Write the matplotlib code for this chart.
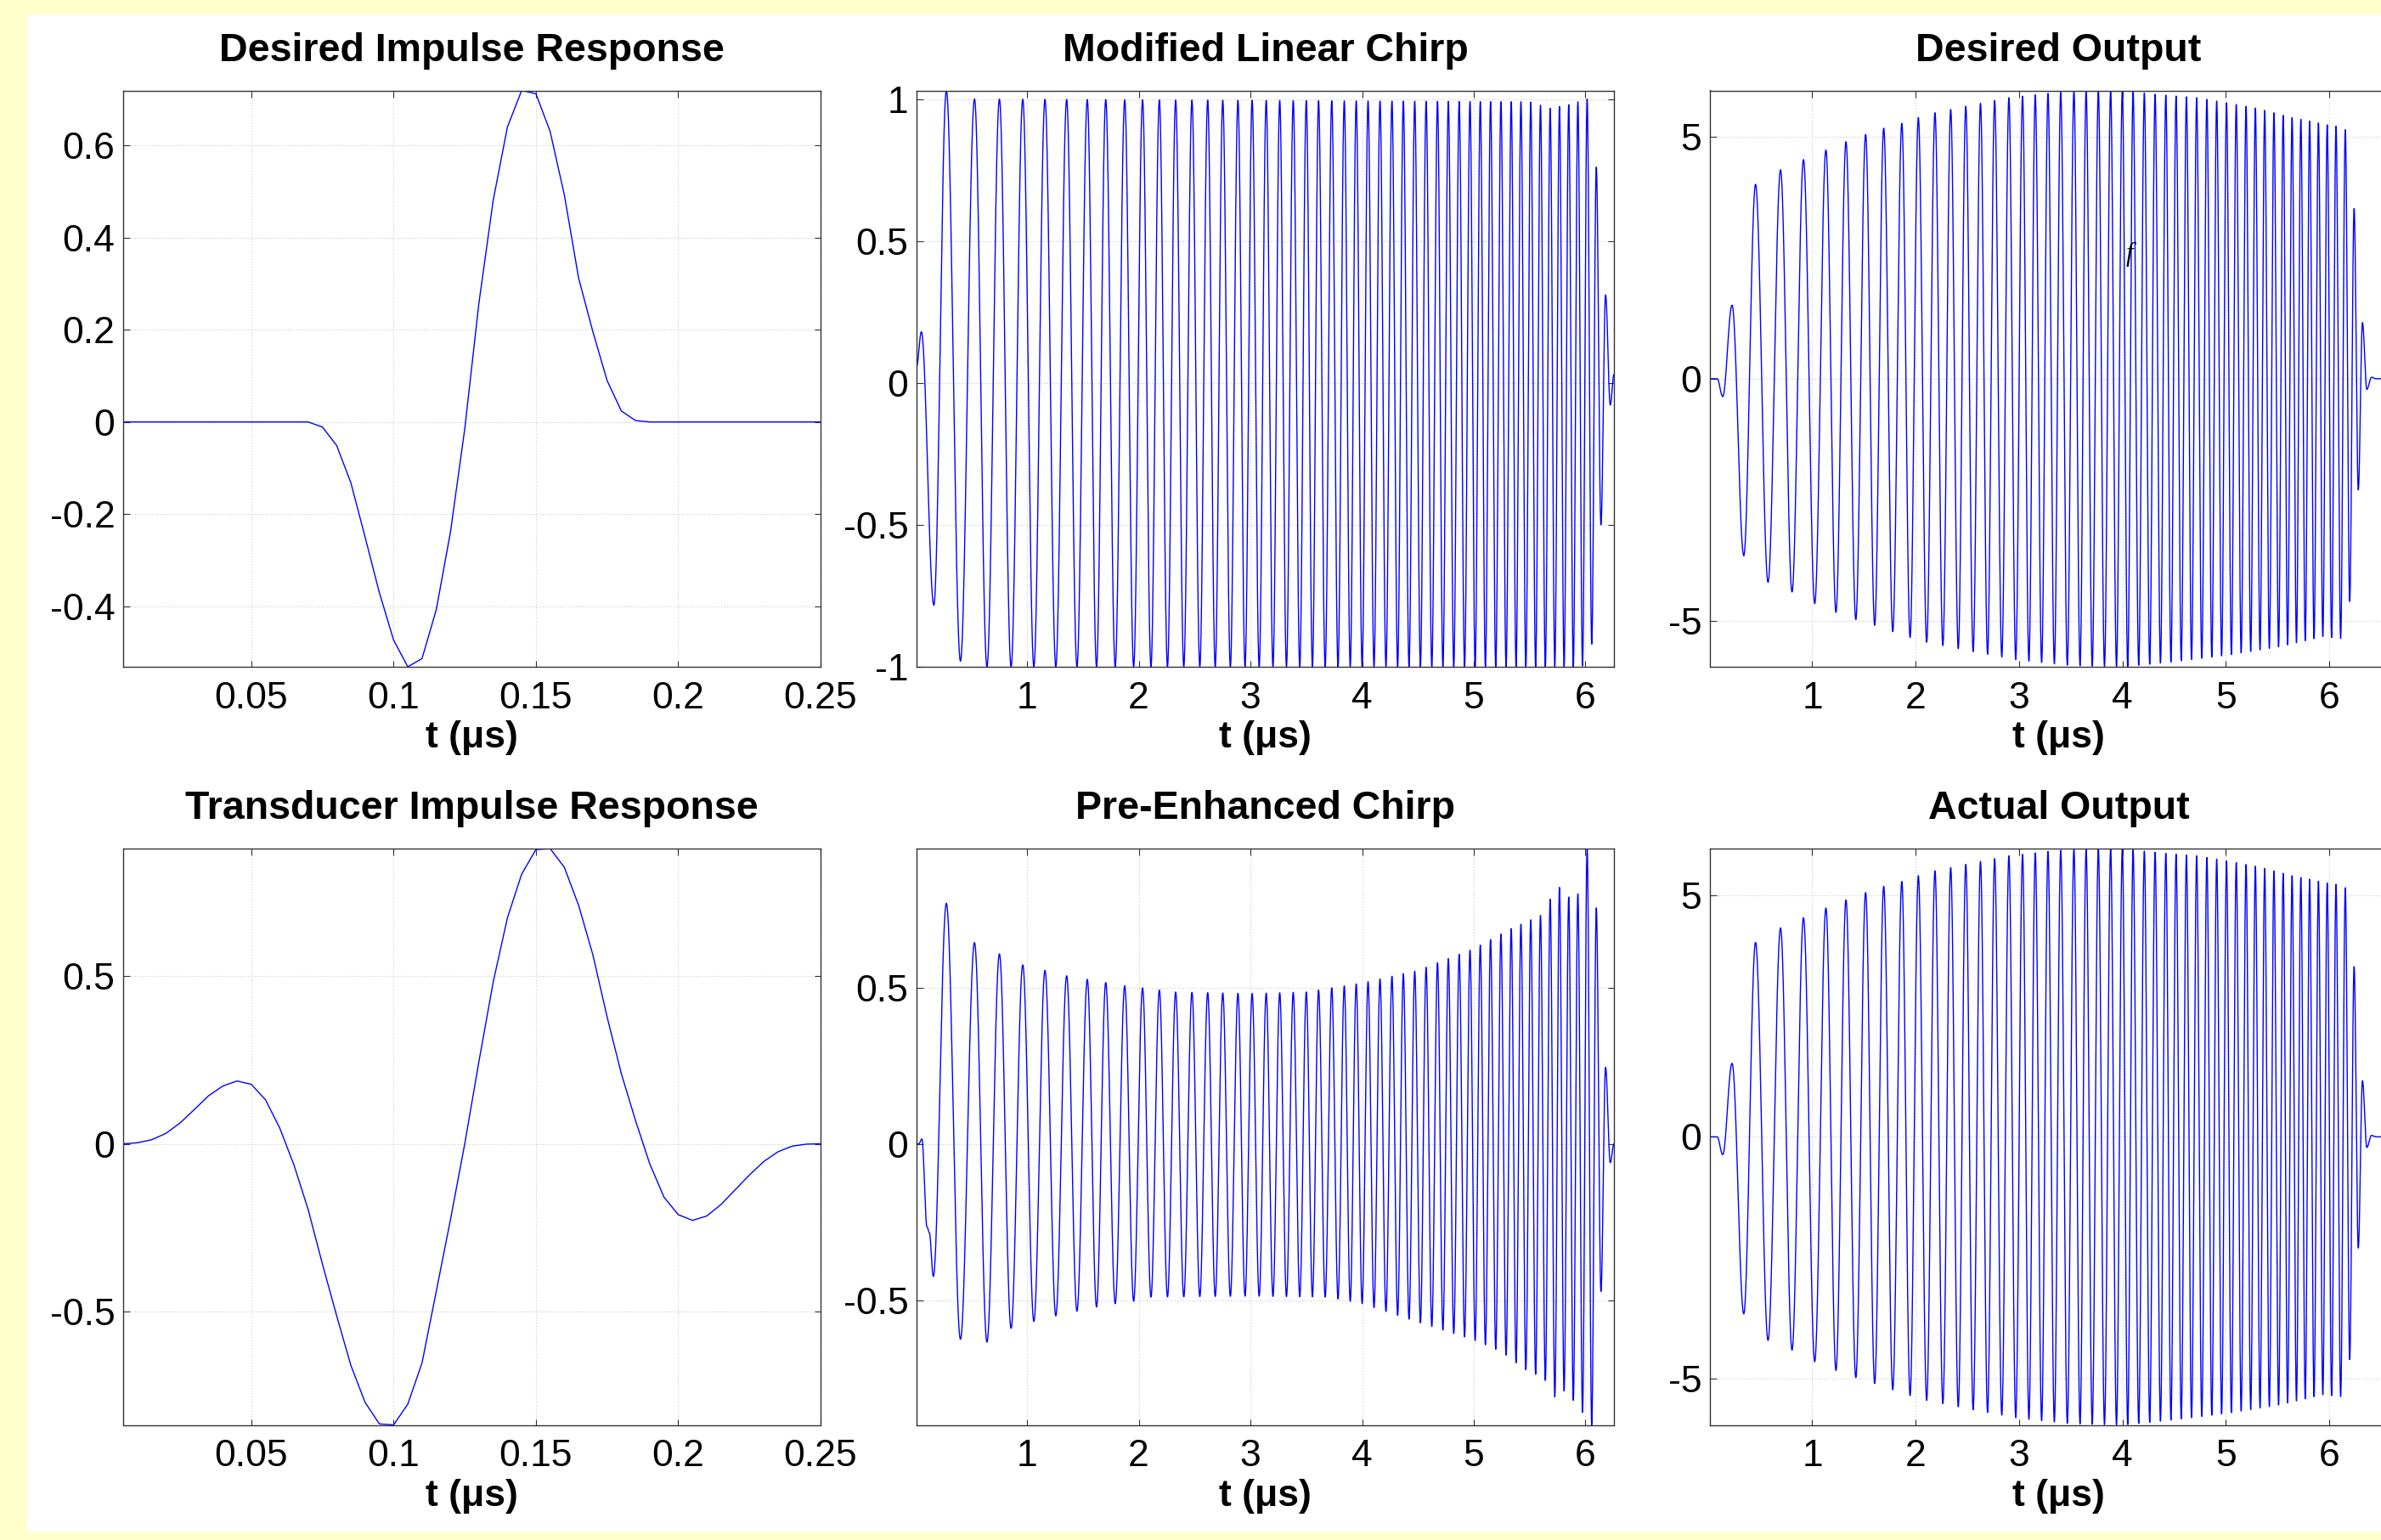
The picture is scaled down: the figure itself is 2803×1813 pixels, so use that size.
import numpy as np
import matplotlib
matplotlib.use('Agg')
import matplotlib.pyplot as plt
from matplotlib.patches import Rectangle

# ------------------------------------------------------------
# Values
# ------------------------------------------------------------
IR_DT = 0.005  # us, sample spacing of the impulse responses

DESIRED_IR = [0, 0, 0, 0, 0, 0, 0, 0, 0, 0, 0, 0, 0, 0,
              -0.011, -0.051, -0.132, -0.25, -0.37, -0.473, -0.531, -0.513,
              -0.407, -0.238, -0.015, 0.259, 0.481, 0.640, 0.719, 0.712,
              0.630, 0.492, 0.312, 0.196, 0.090, 0.024, 0.003,
              0, 0, 0, 0, 0, 0, 0, 0, 0, 0, 0, 0, 0]

TRANSDUCER_IR = [0.0, 0.003, 0.012, 0.031, 0.062, 0.102, 0.143, 0.172, 0.187,
                 0.177, 0.131, 0.047, -0.063, -0.196, -0.358, -0.512, -0.660,
                 -0.770, -0.834, -0.837, -0.775, -0.652, -0.439, -0.225, 0.0,
                 0.246, 0.482, 0.673, 0.803, 0.876, 0.879, 0.823, 0.710, 0.563,
                 0.378, 0.209, 0.069, -0.060, -0.159, -0.211, -0.228, -0.215,
                 -0.181, -0.137, -0.093, -0.053, -0.024, -0.007, -0.001, 0.0]

# chirp panels: times of the positive peaks (us); troughs sit between them
CHIRP_PEAKS = [0.277, 0.529, 0.752, 0.961, 1.16, 1.354, 1.539, 1.704, 1.874,
               2.034, 2.184, 2.33, 2.476, 2.617, 2.752, 2.888, 3.015, 3.141,
               3.262, 3.383, 3.5, 3.61, 3.728, 3.84, 3.947, 4.053, 4.16, 4.267,
               4.369, 4.471, 4.573, 4.675, 4.772, 4.869, 4.966, 5.058, 5.15,
               5.243, 5.335, 5.422, 5.51, 5.597, 5.684, 5.767, 5.85, 5.932,
               6.015, 6.097, 6.18]

# Modified Linear Chirp envelopes
CHIRP_UP_T = [0.277, 0.529, 5.5, 5.684, 5.85, 6.015, 6.097, 6.18]
CHIRP_UP_V = [1.03, 1.0, 0.99, 0.967, 0.98, 1.0, 0.76, 0.31]
CHIRP_LO_T = [0.403, 0.64, 5.97, 6.056, 6.138]
CHIRP_LO_V = [-0.98, -1.0, -1.0, -0.92, -0.50]
CHIRP_LEAD = [(0.01, 0.057), (0.053, 0.18), (0.165, -0.783)]
CHIRP_TAIL = [(6.222, -0.078), (6.255, 0.03)]

# Pre-Enhanced Chirp envelopes
PRE_UP_T = [0.277, 0.529, 0.752, 0.961, 1.354, 1.874, 2.33, 3.0, 3.5, 4.0,
            4.5, 5.0, 5.34, 5.597, 5.684, 5.767, 5.85, 5.932, 6.015, 6.097, 6.18]
PRE_UP_V = [0.77, 0.644, 0.608, 0.573, 0.538, 0.506, 0.486, 0.481, 0.486,
            0.515, 0.555, 0.625, 0.69, 0.731, 0.783, 0.821, 0.79, 0.80, 0.945,
            0.755, 0.245]
PRE_LO_T = [0.403, 0.64, 0.857, 1.06, 1.257, 1.447, 1.62, 1.79, 1.954, 2.1,
            3.0, 3.7, 4.0, 4.5, 5.0, 5.25, 5.45, 5.63, 5.726, 5.81, 5.89, 5.974,
            6.056, 6.138]
PRE_LO_V = [-0.625, -0.634, -0.59, -0.568, -0.55, -0.535, -0.522, -0.511,
            -0.503, -0.49, -0.487, -0.49, -0.511, -0.57, -0.627, -0.665, -0.72,
            -0.75, -0.81, -0.79, -0.82, -0.859, -0.899, -0.472]
PRE_LEAD = [(0.01, 0.0), (0.03, 0.0), (0.058, 0.016), (0.103, -0.265),
            (0.125, -0.285), (0.16, -0.424)]
PRE_TAIL = [(6.222, -0.06), (6.255, 0.0)]

# Desired / Actual Output (the two look the same in the reference)
OUT_PEAKS = [0.224, 0.451, 0.693, 0.915, 1.132, 1.326, 1.516, 1.691, 1.866,
             2.026, 2.187, 2.339, 2.485, 2.627, 2.764, 2.902, 3.034, 3.157,
             3.28, 3.403, 3.531, 3.649, 3.767, 3.886, 3.999, 4.103, 4.212,
             4.316, 4.42, 4.519, 4.619, 4.718, 4.817, 4.912, 5.007, 5.101,
             5.196, 5.286, 5.376, 5.466, 5.555, 5.641, 5.726, 5.811, 5.896,
             5.981, 6.066, 6.156, 6.241, 6.322]
OUT_UP_T = [0.224, 0.451, 0.693, 0.915, 1.132, 1.326, 1.516, 1.691, 1.866,
            2.026, 2.187, 2.5, 2.9, 3.28, 3.53, 4.0, 4.32, 4.72, 5.0, 5.3,
            5.64, 5.98, 6.066, 6.156, 6.241, 6.322]
OUT_UP_V = [1.52, 4.02, 4.32, 4.53, 4.73, 4.9, 5.05, 5.18, 5.28, 5.40, 5.5,
            5.64, 5.81, 5.9, 5.95, 5.96, 5.88, 5.81, 5.71, 5.59, 5.40, 5.25,
            5.22, 5.15, 3.52, 1.16]
OUT_LO_T = [0.338, 0.572, 0.804, 1.024, 1.229, 1.421, 1.604, 1.779, 1.946,
            2.107, 2.5, 3.0, 3.5, 4.0, 4.5, 5.0, 5.5, 5.94, 6.111, 6.198, 6.281]
OUT_LO_V = [-3.66, -4.21, -4.41, -4.65, -4.83, -4.98, -5.1, -5.23, -5.35,
            -5.45, -5.62, -5.82, -5.93, -5.96, -5.85, -5.72, -5.55, -5.33,
            -5.37, -4.62, -2.30]
OUT_LEAD = [(0.01, 0.0), (0.08, 0.0), (0.134, -0.37)]
OUT_TAIL = [(6.364, -0.22), (6.41, 0.03), (6.45, 0.0), (6.756, 0.0)]

TITLES = ['Desired Impulse Response', 'Modified Linear Chirp', 'Desired Output',
          'Transducer Impulse Response', 'Pre-Enhanced Chirp', 'Actual Output']
IR_XTICKS = [0.05, 0.1, 0.15, 0.2, 0.25]
CHIRP_XTICKS = [1, 2, 3, 4, 5, 6]
YTICKS = [[-0.4, -0.2, 0, 0.2, 0.4, 0.6], [-1, -0.5, 0, 0.5, 1], [-5, 0, 5],
          [-0.5, 0, 0.5], [-0.5, 0, 0.5], [-5, 0, 5]]


def wave(lead, peaks, up_t, up_v, lo_t, lo_v, tail, n=30000):
    """Smooth trace through the read extrema (peaks, midway troughs, ends)."""
    pk = np.asarray(peaks, float)
    tr = (pk[:-1] + pk[1:]) / 2
    et = np.empty(2 * len(pk) - 1)
    ev = np.empty_like(et)
    et[0::2], et[1::2] = pk, tr
    ev[0::2] = np.interp(pk, up_t, up_v)
    ev[1::2] = np.interp(tr, lo_t, lo_v)
    lt, lv = zip(*lead)
    tt, tv = zip(*tail)
    et = np.concatenate([lt, et, tt])
    ev = np.concatenate([lv, ev, tv])
    t = np.linspace(et[0], et[-1], n)
    i = np.clip(np.searchsorted(et, t, side='right') - 1, 0, len(et) - 2)
    s = (t - et[i]) / (et[i + 1] - et[i])
    return t, ev[i] + (ev[i + 1] - ev[i]) * (1 - np.cos(np.pi * s)) / 2


t_ir = IR_DT * np.arange(1, len(DESIRED_IR) + 1)
traces = [
    (t_ir, np.array(DESIRED_IR)),
    wave(CHIRP_LEAD, CHIRP_PEAKS, CHIRP_UP_T, CHIRP_UP_V, CHIRP_LO_T, CHIRP_LO_V, CHIRP_TAIL),
    wave(OUT_LEAD, OUT_PEAKS, OUT_UP_T, OUT_UP_V, OUT_LO_T, OUT_LO_V, OUT_TAIL),
    (t_ir, np.array(TRANSDUCER_IR)),
    wave(PRE_LEAD, CHIRP_PEAKS, PRE_UP_T, PRE_UP_V, PRE_LO_T, PRE_LO_V, PRE_TAIL),
    wave(OUT_LEAD, OUT_PEAKS, OUT_UP_T, OUT_UP_V, OUT_LO_T, OUT_LO_V, OUT_TAIL),
]

plt.rcParams.update({
    'font.family': ['Liberation Sans', 'DejaVu Sans'],
    'axes.edgecolor': '#333333',
    'axes.linewidth': 1.0,
})

W, H, DPI = 2803, 1813, 100
fig = plt.figure(figsize=(W / DPI, H / DPI), dpi=DPI, facecolor='#FFFFCC')
fig.patches.append(Rectangle((32 / W, 10 / H), 1, (1803 - 17) / H,
                             transform=fig.transFigure, facecolor='white',
                             edgecolor='none', zorder=-1))

COL_LEFT = [145, 1079, 2013]
ROW_TOP = [106.5, 999]
AX_W, AX_H = 821, 678.5

for k in range(6):
    r, c = divmod(k, 3)
    ax = fig.add_axes([COL_LEFT[c] / W, 1 - (ROW_TOP[r] + AX_H) / H, AX_W / W, AX_H / H])
    t, y = traces[k]
    ax.plot(t, y, color='#0000FF', lw=1.0)
    ax.set_xlim(t[0], t[-1])
    ax.set_ylim(y.min(), y.max())
    xt = IR_XTICKS if c == 0 else CHIRP_XTICKS
    ax.set_xticks(xt)
    ax.set_xticklabels([f'{v:g}' for v in xt])
    ax.set_yticks(YTICKS[k])
    ax.set_yticklabels([f'{v:g}' for v in YTICKS[k]])
    ax.tick_params(direction='in', length=5.4, width=0.8, top=True, right=True,
                   labelsize=32, colors='#333333', labelcolor='black')
    ax.tick_params(axis='x', pad=12)
    ax.tick_params(axis='y', pad=7)
    ax.grid(True, color='#c8c8c8', linestyle=(0, (1, 2)), linewidth=0.8)
    ax.set_title(TITLES[k], fontsize=33.5, fontweight='bold', pad=25)
    ax.set_xlabel('t (\u03bcs)', fontsize=32, fontweight='bold', labelpad=4)

# stray glyph sitting inside the Desired Output panel
fig.axes[2].text(4.07, 2.57, 'f', fontsize=22, style='italic',
                 family='Liberation Serif', ha='center', va='center')

fig.savefig('out.png', dpi=DPI, facecolor=fig.get_facecolor())
